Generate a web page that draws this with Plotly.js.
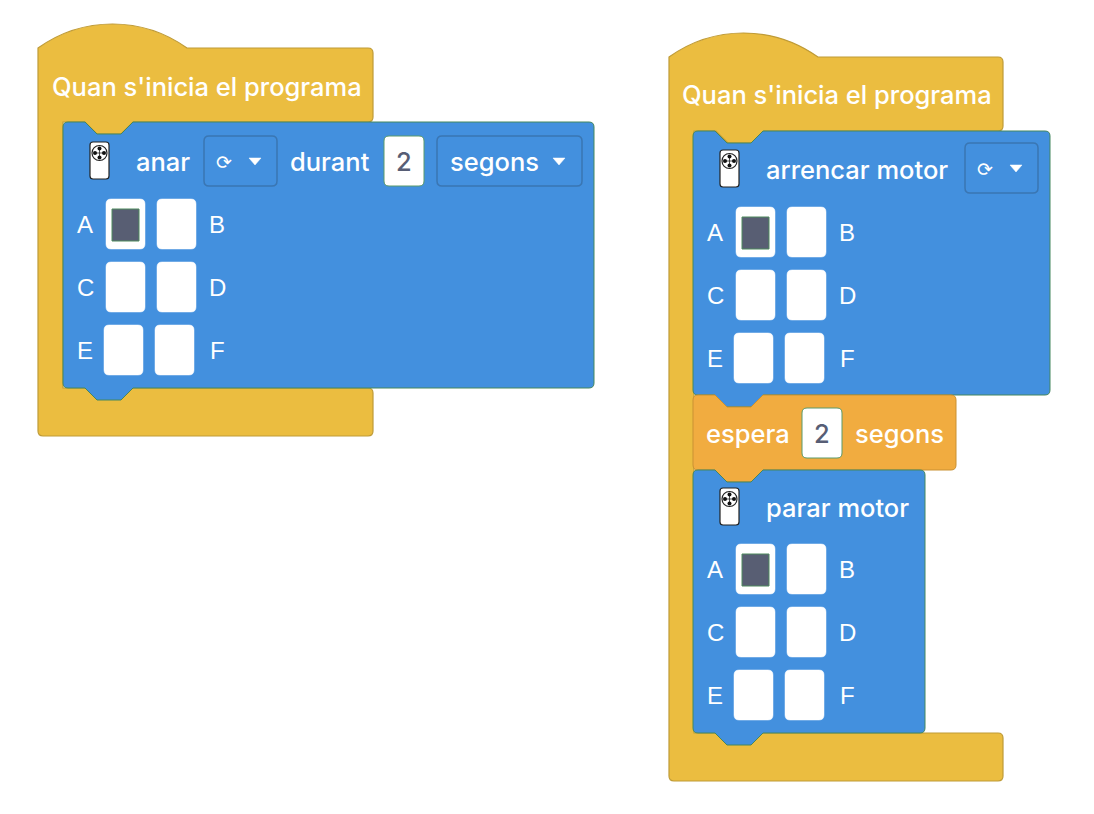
<!DOCTYPE html>
<html>
<head>
<meta charset="utf-8">
<script src="https://cdn.plot.ly/plotly-3.0.1.min.js"></script>
<style>
  html, body { margin: 0; padding: 0; background: #fff; }
  #chart { width: 1094px; height: 814px; }
</style>
</head>
<body>
<div id="chart"></div>
<script>
// ── Block program content ──────────────────────────────────────────
const hatLabels    = ["Quan s'inicia el programa", "Quan s'inicia el programa"];
const driveWords   = ['anar', 'durant', 'segons'];
const stackTitles  = ['arrencar motor', 'espera', 'parar motor'];
const waitUnit     = ['segons'];
const durations    = [2, 2];          // left "durant", right "espera"
const portRows     = [['A', 'B'], ['C', 'D'], ['E', 'F']];
const activePorts  = [['A'], ['A'], ['A']];   // left block, arrencar, parar

// ── Palette ────────────────────────────────────────────────────────
const YELLOW = '#ebbd40', YELLOW_EDGE = '#bf9b37';
const BLUE = '#4390de', BLUE_EDGE = '#44875f';
const ORANGE = '#f1ac40', ORANGE_EDGE = '#c99133';
const DROP_EDGE = '#3a76b3';
const DARK = '#585e73', NUM = '#575e75';
const FONT = 'Inter, "Noto Sans", sans-serif';
const LETTER_FONT = '"Liberation Sans", Arial, sans-serif';
const TXT = 25.5;

const shapes = [];
const annotations = [];

// rounded rectangle path (Plotly paths have no arcs, so Q corners)
function rr(x0, y0, x1, y1, r) {
    return `M${x0},${y0 + r} Q${x0},${y0} ${x0 + r},${y0} L${x1 - r},${y0} Q${x1},${y0} ${x1},${y0 + r} ` +
           `L${x1},${y1 - r} Q${x1},${y1} ${x1 - r},${y1} L${x0 + r},${y1} Q${x0},${y1} ${x0},${y1 - r} Z`;
}

// statement block with top notch and bottom tab
function stmtPath(x, y, w, h) {
    const r = 5;
    return `M${x},${y + r} Q${x},${y} ${x + r},${y} L${x + 22},${y} L${x + 34},${y + 12} L${x + 58},${y + 12} L${x + 70},${y} ` +
           `L${x + w - r},${y} Q${x + w},${y} ${x + w},${y + r} L${x + w},${y + h - r} Q${x + w},${y + h} ${x + w - r},${y + h} ` +
           `L${x + 70},${y + h} L${x + 58},${y + h + 12} L${x + 34},${y + h + 12} L${x + 22},${y + h} ` +
           `L${x + r},${y + h} Q${x},${y + h} ${x},${y + h - r} Z`;
}

// hat ("C" shape) wrapping the stack
function hatPath(x, y0, w, yi, yb, bh) {
    const r = 5, arm = 25;
    return `M${x},${y0} C${x + 45},${y0 - 32} ${x + 104},${y0 - 32} ${x + 149},${y0} ` +
           `L${x + w - r},${y0} Q${x + w},${y0} ${x + w},${y0 + r} L${x + w},${yi - r} Q${x + w},${yi} ${x + w - r},${yi} ` +
           `L${x + arm + 70},${yi} L${x + arm + 58},${yi + 12} L${x + arm + 34},${yi + 12} L${x + arm + 22},${yi} ` +
           `L${x + arm},${yi} L${x + arm},${yb} L${x + w - r},${yb} Q${x + w},${yb} ${x + w},${yb + r} ` +
           `L${x + w},${yb + bh - r} Q${x + w},${yb + bh} ${x + w - r},${yb + bh} L${x + r},${yb + bh} Q${x},${yb + bh} ${x},${yb + bh - r} Z`;
}

function path(d, fill, edge, width) {
    shapes.push({ type: 'path', xref: 'x', yref: 'y', path: d, fillcolor: fill,
                  line: { color: edge || fill, width: width == null ? 1 : width }, layer: 'above' });
}

function text(x, y, s, opt) {
    opt = opt || {};
    annotations.push({ x: x, y: y, xref: 'x', yref: 'y', text: s, showarrow: false,
        xanchor: opt.anchor || 'left', yanchor: 'middle',
        font: { family: opt.family || FONT, size: opt.size || TXT, color: opt.color || '#fff', weight: opt.weight || 500 } });
}

// motor icon, little remote with a wheel
function motorIcon(x, cy) {
    path(rr(x + 27, cy - 19, x + 46, cy + 18, 3), '#fff', '#222', 1.2);
    const cx = x + 36.5, cc = cy - 8;
    shapes.push({ type: 'circle', xref: 'x', yref: 'y', x0: cx - 7.5, x1: cx + 7.5, y0: cc - 7.5, y1: cc + 7.5,
                  fillcolor: '#fff', line: { color: '#222', width: 1.2 }, layer: 'above' });
    shapes.push({ type: 'line', xref: 'x', yref: 'y', x0: cx - 4, x1: cx + 4, y0: cc, y1: cc, line: { color: '#222', width: 0.8 }, layer: 'above' });
    shapes.push({ type: 'line', xref: 'x', yref: 'y', x0: cx, x1: cx, y0: cc - 4, y1: cc + 4, line: { color: '#222', width: 0.8 }, layer: 'above' });
    [[0, -4.5], [0, 4.5], [-4.5, 0], [4.5, 0]].forEach(([dx, dy]) => {
        shapes.push({ type: 'circle', xref: 'x', yref: 'y', x0: cx + dx - 2, x1: cx + dx + 2, y0: cc + dy - 2, y1: cc + dy + 2,
                      fillcolor: '#111', line: { width: 0 }, layer: 'above' });
    });
}

function dropTriangle(cx, cy) {
    path(`M${cx - 6},${cy - 3} L${cx + 6},${cy - 3} L${cx},${cy + 4} Z`, '#fff', '#fff', 0.5);
}

function directionDrop(x0, cy) {
    path(rr(x0, cy - 25, x0 + 73, cy + 25, 5), BLUE, DROP_EDGE, 1.5);
    text(x0 + 20, cy + 1, '⟳', { anchor: 'center', size: 19, weight: 400, family: '"DejaVu Sans", sans-serif' });
    dropTriangle(x0 + 51, cy);
}

function numberBox(x0, cy, v) {
    path(rr(x0, cy - 25, x0 + 40, cy + 25, 5), '#fff', '#5b9a6a', 1);
    text(x0 + 20, cy, String(v), { anchor: 'center', color: NUM });
}

// port grid A..F, rows start at y0, 63 px apart
function ports(x, y0, active) {
    portRows.forEach((pair, i) => {
        const cy = y0 + i * 63;
        text(x + 22, cy, pair[0], { anchor: 'center', family: LETTER_FONT, size: 24, weight: 400 });
        text(x + 154, cy, pair[1], { anchor: 'center', family: LETTER_FONT, size: 24, weight: 400 });
        pair.forEach((p, j) => {
            const bx = x + 43 + j * 51 - (i === 2 ? 2 : 0);
            path(rr(bx, cy - 25, bx + 39, cy + 25, 5), '#fff', '#fff', 0.5);
            if (active.indexOf(p) >= 0) {
                path(`M${bx + 6},${cy - 15} L${bx + 33},${cy - 15} L${bx + 33},${cy + 17} L${bx + 6},${cy + 17} Z`, DARK, '#4f8a5e', 1);
            }
        });
    });
}

// ── Left program ───────────────────────────────────────────────────
path(hatPath(38, 48, 335, 122, 388, 48), YELLOW, YELLOW_EDGE, 1.2);
text(50, 86, hatLabels[0]);
(function () {
    const x = 63, y = 122, c = 161;
    path(stmtPath(x, y, 531, 266), BLUE, BLUE_EDGE, 1);
    motorIcon(x, c);
    text(x + 71, c, driveWords[0]);
    directionDrop(204, c);
    text(288, c, driveWords[1]);
    numberBox(384, c, durations[0]);
    path(rr(437, c - 25, 582, c + 25, 5), BLUE, DROP_EDGE, 1.5);
    text(448, c, driveWords[2]);
    dropTriangle(559, c);
    ports(x, 224, activePorts[0]);
})();

// ── Right program ──────────────────────────────────────────────────
path(hatPath(669, 57, 334, 131, 733, 48), YELLOW, YELLOW_EDGE, 1.2);
text(680, 94, hatLabels[1]);
(function () {
    const x = 693;
    // arrencar motor
    path(stmtPath(x, 131, 357, 264), BLUE, BLUE_EDGE, 1);
    motorIcon(x, 169);
    text(x + 71, 169, stackTitles[0]);
    directionDrop(965, 168);
    ports(x, 232, activePorts[1]);
    // espera
    path(stmtPath(x, 395, 263, 75), ORANGE, ORANGE_EDGE, 1);
    text(x + 11, 433, stackTitles[1]);
    numberBox(802, 433, durations[1]);
    text(853, 433, waitUnit[0]);
    // parar motor
    path(stmtPath(x, 470, 232, 263), BLUE, BLUE_EDGE, 1);
    motorIcon(x, 507);
    text(x + 71, 507, stackTitles[2]);
    ports(x, 569, activePorts[2]);
})();

const layout = {
    width: 1094, height: 814,
    margin: { l: 0, r: 0, t: 0, b: 0 },
    paper_bgcolor: '#fff', plot_bgcolor: '#fff',
    showlegend: false,
    xaxis: { range: [0, 1094], visible: false, fixedrange: true },
    yaxis: { range: [814, 0], visible: false, fixedrange: true },
    shapes: shapes,
    annotations: annotations
};

Plotly.newPlot('chart', [{ x: [0], y: [0], mode: 'markers', marker: { opacity: 0 }, hoverinfo: 'skip' }],
               layout, { staticPlot: true, displayModeBar: false });
</script>
</body>
</html>
